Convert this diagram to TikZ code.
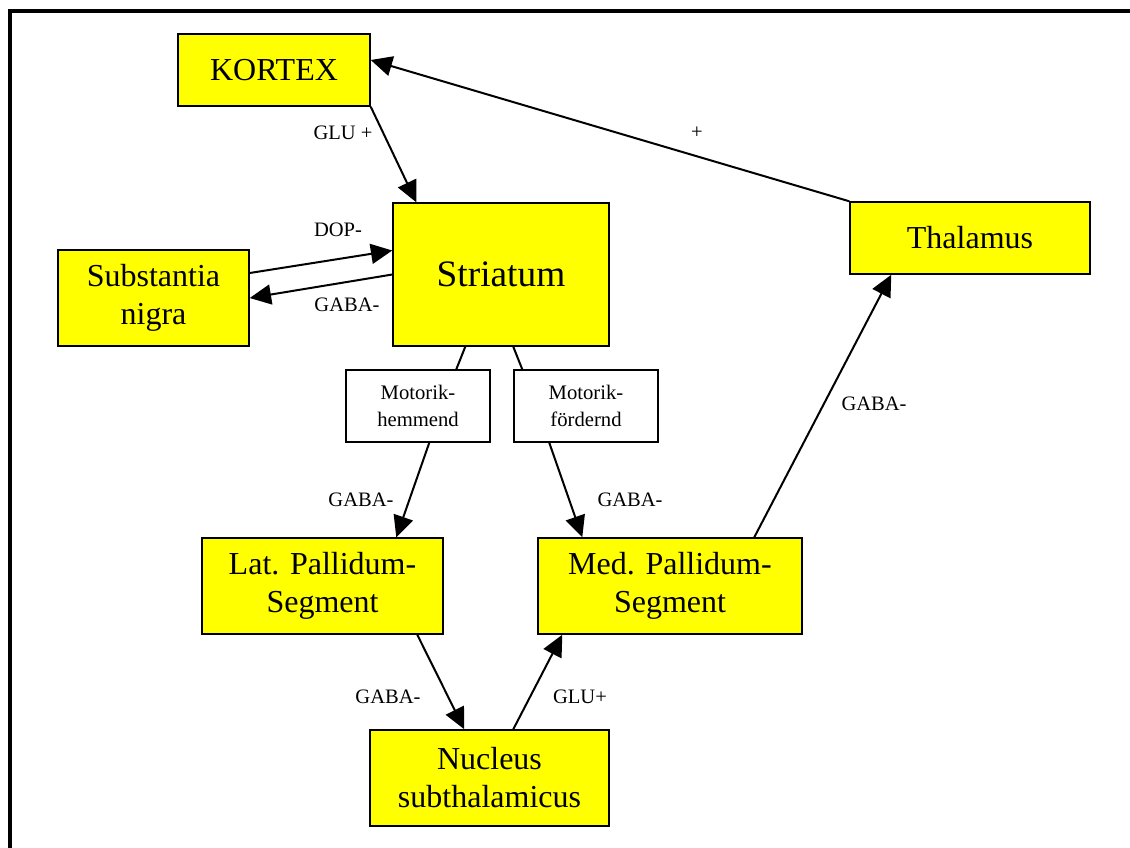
\documentclass[tikz,border=0pt]{standalone}
\usepackage{fontspec}
\setmainfont{Liberation Serif}
\usetikzlibrary{arrows.meta}
\definecolor{boxyellow}{RGB}{255,255,0}
\tikzset{
  yellowbox/.style={draw=black, line width=1.1pt, fill=boxyellow, inner sep=0pt, align=center,
    font=\fontsize{24}{28.5}\selectfont},
  whitebox/.style={draw=black, line width=1.1pt, fill=white, inner sep=0pt, align=center,
    font=\fontsize{15.5}{20}\selectfont, minimum width=108pt, minimum height=54pt},
  arr/.style={line width=1.5pt, -{Triangle[length=16pt,width=15pt]}},
  plain/.style={line width=1.5pt},
  lbl/.style={font=\fontsize{15.4}{18}\selectfont, inner sep=0pt}
}
\begin{document}
\begin{tikzpicture}[x=0.75pt,y=-0.75pt]
\useasboundingbox (0,0) rectangle (1130,847);
\clip (0,0) rectangle (1130,847);
\fill[white] (0,0) rectangle (1130,847);
\draw[line width=3pt] (10,10.5) rectangle (1200,900);

\node[yellowbox, minimum width=144pt, minimum height=54pt] (kortex) at (274,70) {KORTEX};
\node[yellowbox, minimum width=162pt, minimum height=107.25pt, font=\fontsize{28}{32}\selectfont] (str) at (501,274.5) {Striatum};
\node[yellowbox, minimum width=143.25pt, minimum height=72pt] (sub) at (153.5,298) {Substantia\\nigra};
\node[yellowbox, minimum width=180pt, minimum height=54pt] (thal) at (970,238) {Thalamus};
\node[whitebox] (mh) at (418,406) {Motorik-\\hemmend};
\node[whitebox] (mf) at (586,406) {Motorik-\\f\"ordernd};
\node[yellowbox, minimum width=180.75pt, minimum height=72pt] (lp) at (322.5,586) {Lat. Pallidum-\\Segment};
\node[yellowbox, minimum width=198pt, minimum height=72pt] (mp) at (670,586) {Med. Pallidum-\\Segment};
\node[yellowbox, minimum width=179.25pt, minimum height=72pt] (nuc) at (489.5,778) {Nucleus\\subthalamicus};

% Thalamus -> Kortex
\draw[arr] (thal.north west) -- ([yshift=7.5pt]kortex.east)
  node[lbl] (l1) at (697,133) {+};
% Kortex -> Striatum
\draw[arr] (kortex.south east) -- ([xshift=18pt]str.north west)
  node[lbl] (l2) at (343,133) {GLU +};
% Substantia -> Striatum
\draw[arr] ([yshift=18.75pt]sub.east) -- ([yshift=18pt]str.west)
  node[lbl] (l3) at (338,230) {DOP-};
% Striatum -> Substantia
\draw[arr] (str.west) -- (sub.east)
  node[lbl] (l4) at (347,305) {GABA-};
% Striatum -> Motorik boxes
\draw[plain] ([xshift=54.75pt]str.south west) -- ([xshift=83.25pt]mh.north west);
\draw[plain] ([xshift=90.75pt]str.south west) -- ([xshift=6.75pt]mf.north west);
% Motorik-hemmend -> Lat. Pallidum
\draw[arr] ([xshift=63pt]mh.south west) -- ([xshift=146.25pt]lp.north west)
  node[lbl] (l5) at (361,500) {GABA-};
% Motorik-foerdernd -> Med. Pallidum
\draw[arr] ([xshift=27pt]mf.south west) -- ([xshift=33.75pt]mp.north west)
  node[lbl] (l6) at (630,500) {GABA-};
% Med. Pallidum -> Thalamus
\draw[arr] ([xshift=162.75pt]mp.north west) -- ([xshift=31.5pt]thal.south west)
  node[lbl] (l7) at (874,404) {GABA-};
% Lat. Pallidum -> Nucleus
\draw[arr] ([xshift=162pt]lp.south west) -- ([xshift=71.25pt]nuc.north west)
  node[lbl] (l8) at (388,697) {GABA-};
% Nucleus -> Med. Pallidum
\draw[arr] ([xshift=108pt]nuc.north west) -- ([xshift=18.75pt]mp.south west)
  node[lbl] (l9) at (580,697) {GLU+};
\end{tikzpicture}
\end{document}
